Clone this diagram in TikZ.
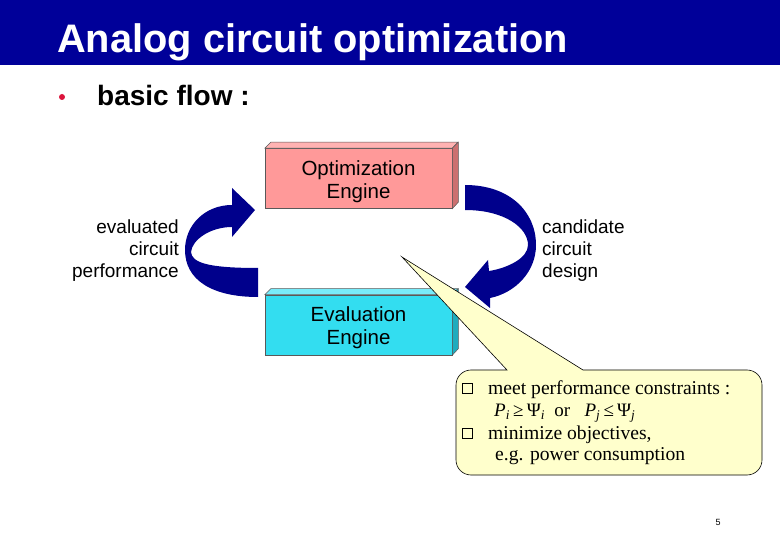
\documentclass[tikz,border=0pt]{standalone}
\usepackage{fontspec}
\usepackage{amssymb}
\setmainfont{Liberation Serif}
\newfontfamily\arial{Liberation Sans}
\definecolor{titleblue}{RGB}{0,0,153}
\definecolor{arrowblue}{RGB}{0,0,140}
\definecolor{pinkfront}{RGB}{255,153,153}
\definecolor{pinktop}{RGB}{255,178,178}
\definecolor{pinkside}{RGB}{204,112,112}
\definecolor{cyanfront}{RGB}{51,221,240}
\definecolor{cyantop}{RGB}{120,236,250}
\definecolor{cyanside}{RGB}{30,172,190}
\definecolor{calloutfill}{RGB}{255,255,204}
\definecolor{bulletred}{RGB}{220,20,60}
\tikzset{
  frontbox/.style={draw=black!65, line width=0.5pt, minimum width=187pt, minimum height=60pt,
    inner sep=0pt, align=center, font=\arial\fontsize{20.5}{23}\selectfont},
  face/.style={draw=black!65, line width=0.5pt},
  lbl/.style={inner sep=0pt, font=\arial\fontsize{19}{22}\selectfont},
  ctext/.style={inner sep=0pt, anchor=base west, font=\fontsize{19.6}{24}\selectfont},
  chk/.style={draw=black, line width=0.6pt, minimum size=10pt, inner sep=0pt},
  flowarrow/.style={fill=arrowblue}
}
\newcommand{\subit}[1]{\textsubscript{\itshape #1}}
\begin{document}
\begin{tikzpicture}[x=1pt,y=-1pt]
\useasboundingbox (0,0) rectangle (780,540);
\fill[white] (0,0) rectangle (780,540);
% title bar
\fill[titleblue] (0,0) rectangle (780,65);
\node[anchor=base west, inner sep=0pt, text=white, font=\arial\bfseries\fontsize{39.8}{42}\selectfont] (title) at (57,53) {Analog circuit optimization};
% bullet
\node[circle, fill=bulletred, minimum size=6pt, inner sep=0pt] (bullet) at (62,97) {};
\node[anchor=base west, inner sep=0pt, font=\arial\bfseries\fontsize{28}{30}\selectfont] (basic) at (97,106) {basic flow :};

% left curved arrow (evaluated performance -> optimization)
\fill[flowarrow] (258,297) .. controls (212,297) and (185,280) .. (185,250)
  .. controls (185,225) and (205,205) .. (232,205) -- (232,188) -- (255,210) -- (232,237) -- (232,227)
  .. controls (210,227) and (192,240) .. (191,252) .. controls (192,262) and (205,268) .. (258,268) -- cycle;
% right curved arrow (optimization -> candidate design)
\fill[flowarrow] (465,185) .. controls (510,185) and (536,212) .. (536,245)
  .. controls (536,272) and (515,293) .. (490,298) -- (490,308) -- (465,287) -- (488,260) -- (489,271)
  .. controls (508,268) and (528,258) .. (528,245) .. controls (528,228) and (505,210) .. (465,210) -- cycle;

% Optimization Engine box
\node[frontbox, fill=pinkfront] (opt) at (358.5,178.5) {};
\node[inner sep=0pt, align=center, font=\arial\fontsize{20.5}{23}\selectfont] (optlbl) at (358.5,181.5) {Optimization\\Engine};
\filldraw[face, fill=pinktop] (opt.north west) -- ++(6,-6) -- ++(187,0) -- (opt.north east) -- cycle;
\filldraw[face, fill=pinkside] (opt.north east) -- ++(6,-6) -- ++(0,60) -- (opt.south east) -- cycle;

% Evaluation Engine box
\node[frontbox, fill=cyanfront] (eval) at (358.5,325) {};
\node[inner sep=0pt, align=center, font=\arial\fontsize{20.5}{23}\selectfont] (evallbl) at (358.5,328) {Evaluation\\Engine};
\filldraw[face, fill=cyantop] (eval.north west) -- ++(6,-6) -- ++(187,0) -- (eval.north east) -- cycle;
\filldraw[face, fill=cyanside] (eval.north east) -- ++(6,-6) -- ++(0,60) -- (eval.south east) -- cycle;

% side labels
\node[lbl, anchor=north east, align=right] (evlbl) at (179,220) {evaluated\\circuit\\performance};
\node[lbl, anchor=north west, align=left] (cdlbl) at (542,220) {candidate\\circuit\\design};

% callout
\filldraw[fill=calloutfill, draw=black, line width=0.6pt]
  (507,370) -- (402,257) -- (583,370) -- (600,370) [rounded corners=15pt] -- (762,370) -- (762,475)
  -- (456,475) -- (456,370) -- (490,370) [sharp corners] -- cycle;
\node[chk] (chk1) at (467,388) {};
\node[chk] (chk2) at (467,433) {};
\node[ctext] (t1) at (488,395) {meet performance constraints :};
\node[ctext, font=\fontsize{19}{22}\selectfont] (t2) at (494,417) {{\itshape P}\subit{i}\,≥\,Ψ\subit{i}\ \ or\ \ \ {\itshape P}\subit{j}\,≤\,Ψ\subit{j}};
\node[ctext] (t3) at (488,439) {minimize objectives,};
\node[ctext] (t4) at (495,460) {e.g. power consumption};

% page number
\node[inner sep=0pt, font=\arial\fontsize{9}{10}\selectfont] (pgnum) at (718,522) {5};
\end{tikzpicture}
\end{document}
